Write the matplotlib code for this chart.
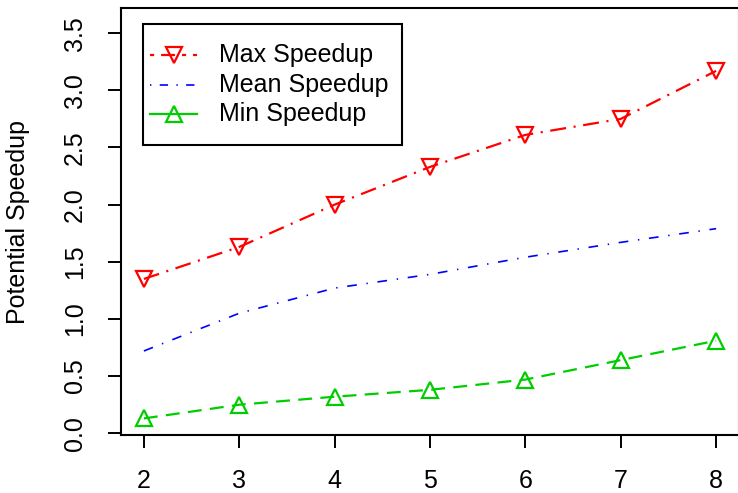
import matplotlib
matplotlib.use("Agg")
import matplotlib.pyplot as plt
from matplotlib.lines import Line2D
from matplotlib.patches import Rectangle

plt.rcParams['font.family'] = ['Liberation Sans', 'DejaVu Sans']
plt.rcParams['lines.scale_dashes'] = False

x = [2, 3, 4, 5, 6, 7, 8]
max_speedup = [1.35, 1.63, 2.00, 2.33, 2.61, 2.75, 3.17]
mean_speedup = [0.72, 1.05, 1.27, 1.39, 1.54, 1.67, 1.79]
min_speedup = [0.13, 0.25, 0.32, 0.38, 0.47, 0.64, 0.81]
labels = ["Max Speedup", "Mean Speedup", "Min Speedup"]
yticks = [0.0, 0.5, 1.0, 1.5, 2.0, 2.5, 3.0, 3.5]

RED = "#FF0000"
BLUE = "#0000FF"
GREEN = "#00CD00"
FS = 18

fig = plt.figure(figsize=(7.38, 4.93), dpi=100)
ax = fig.add_axes([121/738, 1-435/493, 618/738, 427/493])

red_ls = (0, (11.5, 5.5, 1.5, 5.5))
blue_ls = (0, (7, 7, 1, 7))
green_ls = (0, (10, 6))

ax.plot(x, max_speedup, color=RED, lw=1.6, linestyle=red_ls,
        marker='v', markersize=12, markerfacecolor='none', markeredgewidth=1.6)
ax.plot(x, mean_speedup, color=BLUE, lw=1.2, linestyle=blue_ls)
ax.plot(x, min_speedup, color=GREEN, lw=1.6, linestyle=green_ls,
        marker='^', markersize=12, markerfacecolor='none', markeredgewidth=1.6)

ax.set_xlim(1.76, 8.24)
ax.set_ylim(-0.015, 3.72)
ax.set_xticks(x)
ax.set_xticklabels([str(v) for v in x])
ax.set_yticks(yticks)
ax.set_yticklabels([f"{v:.1f}" for v in yticks], rotation=90, va='center')
ax.tick_params(axis='both', labelsize=FS, length=9.5, width=1.4, direction='out')
ax.tick_params(axis='y', pad=15)
ax.tick_params(axis='x', pad=15)
for s in ax.spines.values():
    s.set_linewidth(1.5)
ax.set_ylabel("Potential Speedup", fontsize=FS)
ax.yaxis.set_label_coords(-(121 - 18) / 618, 0.5)
ax.yaxis.label.set_va('center')

# legend box (axes coordinates)
tr = ax.transAxes
def ax_x(px):
    return (px - 121) / 618
def ax_y(py):
    return 1 - (py - 8) / 427

ax.add_patch(Rectangle((ax_x(143), ax_y(145)), ax_x(402) - ax_x(143), ax_y(24) - ax_y(145),
                       transform=tr, fill=False, edgecolor='black', lw=1.5, zorder=5))
rows = [55, 85, 114]
styles = [
    dict(color=RED, lw=1.6, linestyle=(0, (3, 5, 10, 5)), marker='v'),
    dict(color=BLUE, lw=1.2, linestyle=(0, (1, 6, 6, 6)), marker=None),
    dict(color=GREEN, lw=1.6, linestyle='-', marker='^'),
]
for ry, st, lab in zip(rows, styles, labels):
    ax.add_line(Line2D([ax_x(150), ax_x(197)], [ax_y(ry), ax_y(ry)], transform=tr,
                       color=st['color'], lw=st['lw'], linestyle=st['linestyle'], zorder=6))
    if st['marker']:
        ax.add_line(Line2D([ax_x(174)], [ax_y(ry)], transform=tr, color=st['color'],
                           marker=st['marker'], markersize=12, markerfacecolor='none',
                           markeredgewidth=1.6, linestyle='none', zorder=6))
    ax.text(ax_x(219), ax_y(ry), lab, transform=tr, fontsize=FS, va='center', ha='left', zorder=6)

fig.savefig("out.png", dpi=100)
